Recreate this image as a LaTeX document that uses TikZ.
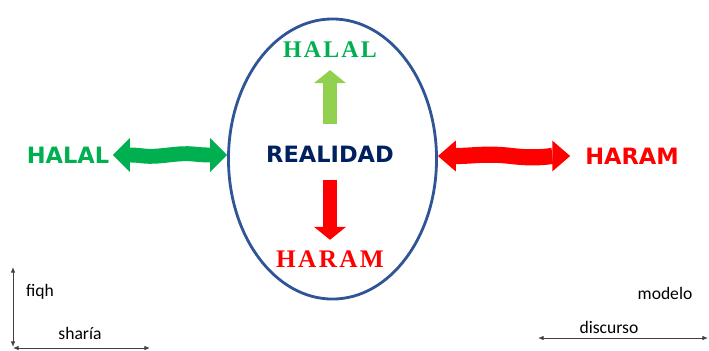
\documentclass[tikz,border=0pt]{standalone}
\usepackage{fontspec}
\setmainfont{Carlito}
\newfontfamily\boldsans{DejaVu Sans}
\newfontfamily\fancyserif{Liberation Serif}[LetterSpace=9]
\usepackage{tikz}
\usetikzlibrary{positioning,shapes.geometric,arrows.meta,calc}
\usepackage{xcolor}
\definecolor{halalgreen}{HTML}{00B050}
\definecolor{lightgreen}{HTML}{92D050}
\definecolor{haramred}{HTML}{FF0000}
\definecolor{realnavy}{HTML}{002060}
\definecolor{ellblue}{HTML}{2F5597}

\begin{document}
\begin{tikzpicture}[
    x=0.025cm, y=-0.025cm,
    bigword/.style={inner sep=0pt, font=\boldsans\bfseries\fontsize{16}{18}\selectfont},
    fancyword/.style={inner sep=0pt, font=\fancyserif\bfseries\fontsize{17}{19}\selectfont},
    smallword/.style={inner sep=0pt, text=black, font=\fontsize{12.5}{14}\selectfont},
    blockarrow/.style={line width=10.6pt, -{Triangle[length=9.2pt, width=22.7pt, line width=0pt]}},
    greenwave/.style={halalgreen, line width=10.6pt, {Triangle[length=12pt, width=24pt, line width=0pt]}-{Triangle[length=12pt, width=24pt, line width=0pt]}},
    redwave/.style={haramred, line width=11.5pt, {Triangle[length=12.7pt, width=22pt, line width=0pt]}-{Triangle[length=12.7pt, width=22pt, line width=0pt]}},
    axis/.style={black!75, line width=0.6pt, {Latex[length=4pt, width=3.2pt]}-{Latex[length=4pt, width=3.2pt]}}
]

\useasboundingbox (0,0) rectangle (709,350);

% Reality ellipse
\node[ellipse, draw=ellblue, line width=2pt, minimum width=5.2cm, minimum height=7cm] (ell) at (332.5,159) {};
\node[bigword, text=realnavy] (real) at (330,154) {REALIDAD};

% Inside: halal above, haram below
\node[fancyword, text=halalgreen] (halaltop) at (330,50) {HALAL};
\node[fancyword, text=haramred, font=\fancyserif\bfseries\fontsize{18}{20}\selectfont] (harambot) at (330,259) {HARAM};

\draw[blockarrow, lightgreen, shorten <=15pt, shorten >=8.5pt] (real) -- (halaltop);
\draw[blockarrow, haramred, shorten <=12.6pt, shorten >=7.5pt] (real) -- (harambot);

% Outside: halal left, haram right
\node[bigword, text=halalgreen] (halalleft) at (68,155) {HALAL};
\node[bigword, text=haramred] (haramright) at (632,156) {HARAM};

\draw[greenwave, shorten <=2.5pt] (halalleft.east) .. controls +(35,0) and +(-25,3) .. ($(halalleft.east)!0.5!(halalleft.east -| ell.west)$) .. controls +(25,-3) and +(-35,0) .. (halalleft.east -| ell.west);
\draw[redwave, shorten >=10.6pt] (haramright.west -| ell.east) .. controls +(35,0) and +(-25,-3) .. ($(haramright.west -| ell.east)!0.5!(haramright.west)$) .. controls +(25,3) and +(-35,0) .. (haramright.west);

% Axes bottom left
\coordinate (origin) at (13,347);
\coordinate (ytop) at (13,267);
\coordinate (xend) at (150,348);
\draw[axis] (ytop) -- (origin);
\draw[axis] (origin |- xend) -- (xend);
\node[smallword] (fiqh) at (40,292) {fiqh};
\node[smallword] (sharia) at (80,333) {sharía};

% Axis bottom right
\coordinate (dleft) at (538,338);
\coordinate (dright) at (708,338);
\draw[axis] (dleft) -- (dright);
\node[smallword] (modelo) at (665,293) {modelo};
\node[smallword] (discurso) at (609,327) {discurso};

\end{tikzpicture}
\end{document}
